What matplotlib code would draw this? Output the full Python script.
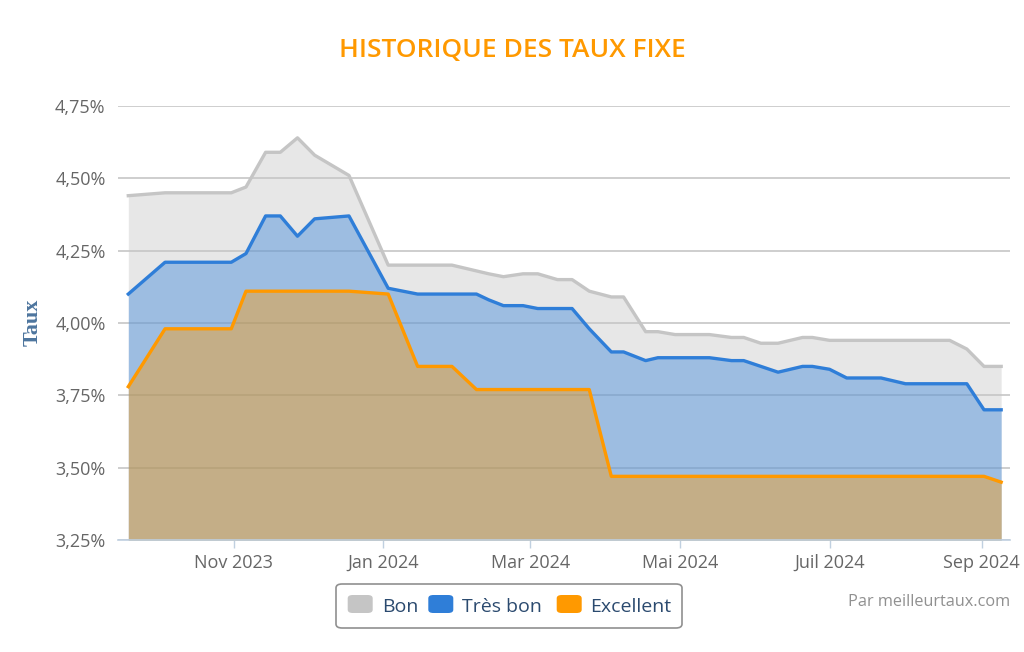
import numpy as np
import pandas as pd
import matplotlib
matplotlib.use("Agg")
import matplotlib.pyplot as plt
import matplotlib.dates as mdates
from matplotlib.patches import FancyBboxPatch

# données
dates = ["2023-09-19", "2023-10-04", "2023-10-31", "2023-11-06", "2023-11-14",
         "2023-11-20", "2023-11-27", "2023-12-04", "2023-12-18", "2024-01-03",
         "2024-01-15", "2024-01-29", "2024-02-08", "2024-02-13", "2024-02-19",
         "2024-02-27", "2024-03-04", "2024-03-12", "2024-03-18", "2024-03-25",
         "2024-04-03", "2024-04-08", "2024-04-17", "2024-04-22", "2024-04-29",
         "2024-05-13", "2024-05-22", "2024-05-27", "2024-06-03", "2024-06-10",
         "2024-06-20", "2024-06-24", "2024-07-01", "2024-07-08", "2024-07-22",
         "2024-08-01", "2024-08-19", "2024-08-26", "2024-09-02", "2024-09-09"]

bon = [4.44, 4.45, 4.45, 4.47, 4.59, 4.59, 4.64, 4.58, 4.51, 4.20,
       4.20, 4.20, 4.18, 4.17, 4.16, 4.17, 4.17, 4.15, 4.15, 4.11,
       4.09, 4.09, 3.97, 3.97, 3.96, 3.96, 3.95, 3.95, 3.93, 3.93,
       3.95, 3.95, 3.94, 3.94, 3.94, 3.94, 3.94, 3.91, 3.85, 3.85]

tres_bon = [4.10, 4.21, 4.21, 4.24, 4.37, 4.37, 4.30, 4.36, 4.37, 4.12,
            4.10, 4.10, 4.10, 4.08, 4.06, 4.06, 4.05, 4.05, 4.05, 3.98,
            3.90, 3.90, 3.87, 3.88, 3.88, 3.88, 3.87, 3.87, 3.85, 3.83,
            3.85, 3.85, 3.84, 3.81, 3.81, 3.79, 3.79, 3.79, 3.70, 3.70]

excellent = [3.78, 3.98, 3.98, 4.11, 4.11, 4.11, 4.11, 4.11, 4.11, 4.10,
             3.85, 3.85, 3.77, 3.77, 3.77, 3.77, 3.77, 3.77, 3.77, 3.77,
             3.47, 3.47, 3.47, 3.47, 3.47, 3.47, 3.47, 3.47, 3.47, 3.47,
             3.47, 3.47, 3.47, 3.47, 3.47, 3.47, 3.47, 3.47, 3.47, 3.45]

series_names = ["Bon", "Très bon", "Excellent"]
series_colors = ["#c5c5c5", "#2f7ed8", "#ff9900"]

month_ticks = ["2023-11-01", "2024-01-01", "2024-03-01", "2024-05-01", "2024-07-01", "2024-09-01"]
month_labels = ["Nov 2023", "Jan 2024", "Mar 2024", "Mai 2024", "Juil 2024", "Sep 2024"]

y_ticks = [3.25, 3.50, 3.75, 4.00, 4.25, 4.50, 4.75]
y_labels = ["3,25%", "3,50%", "3,75%", "4,00%", "4,25%", "4,50%", "4,75%"]

plt.rcParams['font.family'] = ['Open Sans', 'DejaVu Sans']

W, H = 1024, 652
fig = plt.figure(figsize=(W / 100, H / 100), dpi=100)
ax = fig.add_axes([118 / W, 1 - 540 / H, 892 / W, 434 / H])

x = pd.to_datetime(dates)
for vals, col in zip([bon, tres_bon, excellent], series_colors):
    ax.fill_between(x, vals, 3.0, color=col, alpha=0.4, lw=0, zorder=2)
    ax.plot(x, vals, color=col, lw=2.4, solid_joinstyle='round', zorder=3)

nov1 = mdates.date2num(pd.Timestamp("2023-11-01"))
ax.set_xlim(nov1 - 47.2, nov1 + 316.6)
ax.set_ylim(3.25, 4.75)

ax.set_xticks(pd.to_datetime(month_ticks))
ax.set_xticklabels(month_labels)
ax.set_yticks(y_ticks)
ax.set_yticklabels(y_labels)

ax.tick_params(axis='x', length=6, width=1, color='#c0d0e0', pad=4,
               labelsize=13, labelcolor='#666666')
ax.tick_params(axis='y', length=0, pad=9, labelsize=13, labelcolor='#666666')

for s in ['top', 'right', 'left']:
    ax.spines[s].set_visible(False)
ax.spines['bottom'].set_color('#c0d0e0')
ax.spines['bottom'].set_linewidth(1.2)
ax.spines['bottom'].set_zorder(4)

ax.yaxis.grid(True, color='#c6c6c6', lw=1.2, zorder=1)
ax.set_axisbelow(True)

fig.text(0.5, 1 - 57 / H, "HISTORIQUE DES TAUX FIXE", ha='center', va='baseline',
         fontsize=19, fontweight='semibold', color='#ff9900')

fig.text(33 / W, 1 - 322 / H, "Taux", rotation=90, ha='center', va='center',
         fontsize=16, fontweight='bold', color='#4d759e', family='Liberation Serif')

# légende
box = FancyBboxPatch((336 / W, 24 / H), 346 / W, 44 / H,
                     boxstyle="round,pad=0,rounding_size=0.006",
                     transform=fig.transFigure, facecolor='white',
                     edgecolor='#909090', lw=1.2)
fig.patches.append(box)

sym_x = [347.7, 428.3, 556.7]
txt_x = [381.7, 462.3, 590.0]
for name, col, sx, tx in zip(series_names, series_colors, sym_x, txt_x):
    sym = FancyBboxPatch((sx / W, 39 / H), 25 / W, 18 / H,
                         boxstyle="round,pad=0,rounding_size=0.005",
                         transform=fig.transFigure, facecolor=col,
                         edgecolor='none')
    fig.patches.append(sym)
    fig.text(tx / W, 1 - 612.3 / H, name, ha='left', va='baseline',
             fontsize=14, color='#2b4a6f')

fig.text(1010 / W, 1 - 606 / H, "Par meilleurtaux.com", ha='right', va='baseline',
         fontsize=11.7, color='#909090')

fig.savefig("out.png", dpi=100)
